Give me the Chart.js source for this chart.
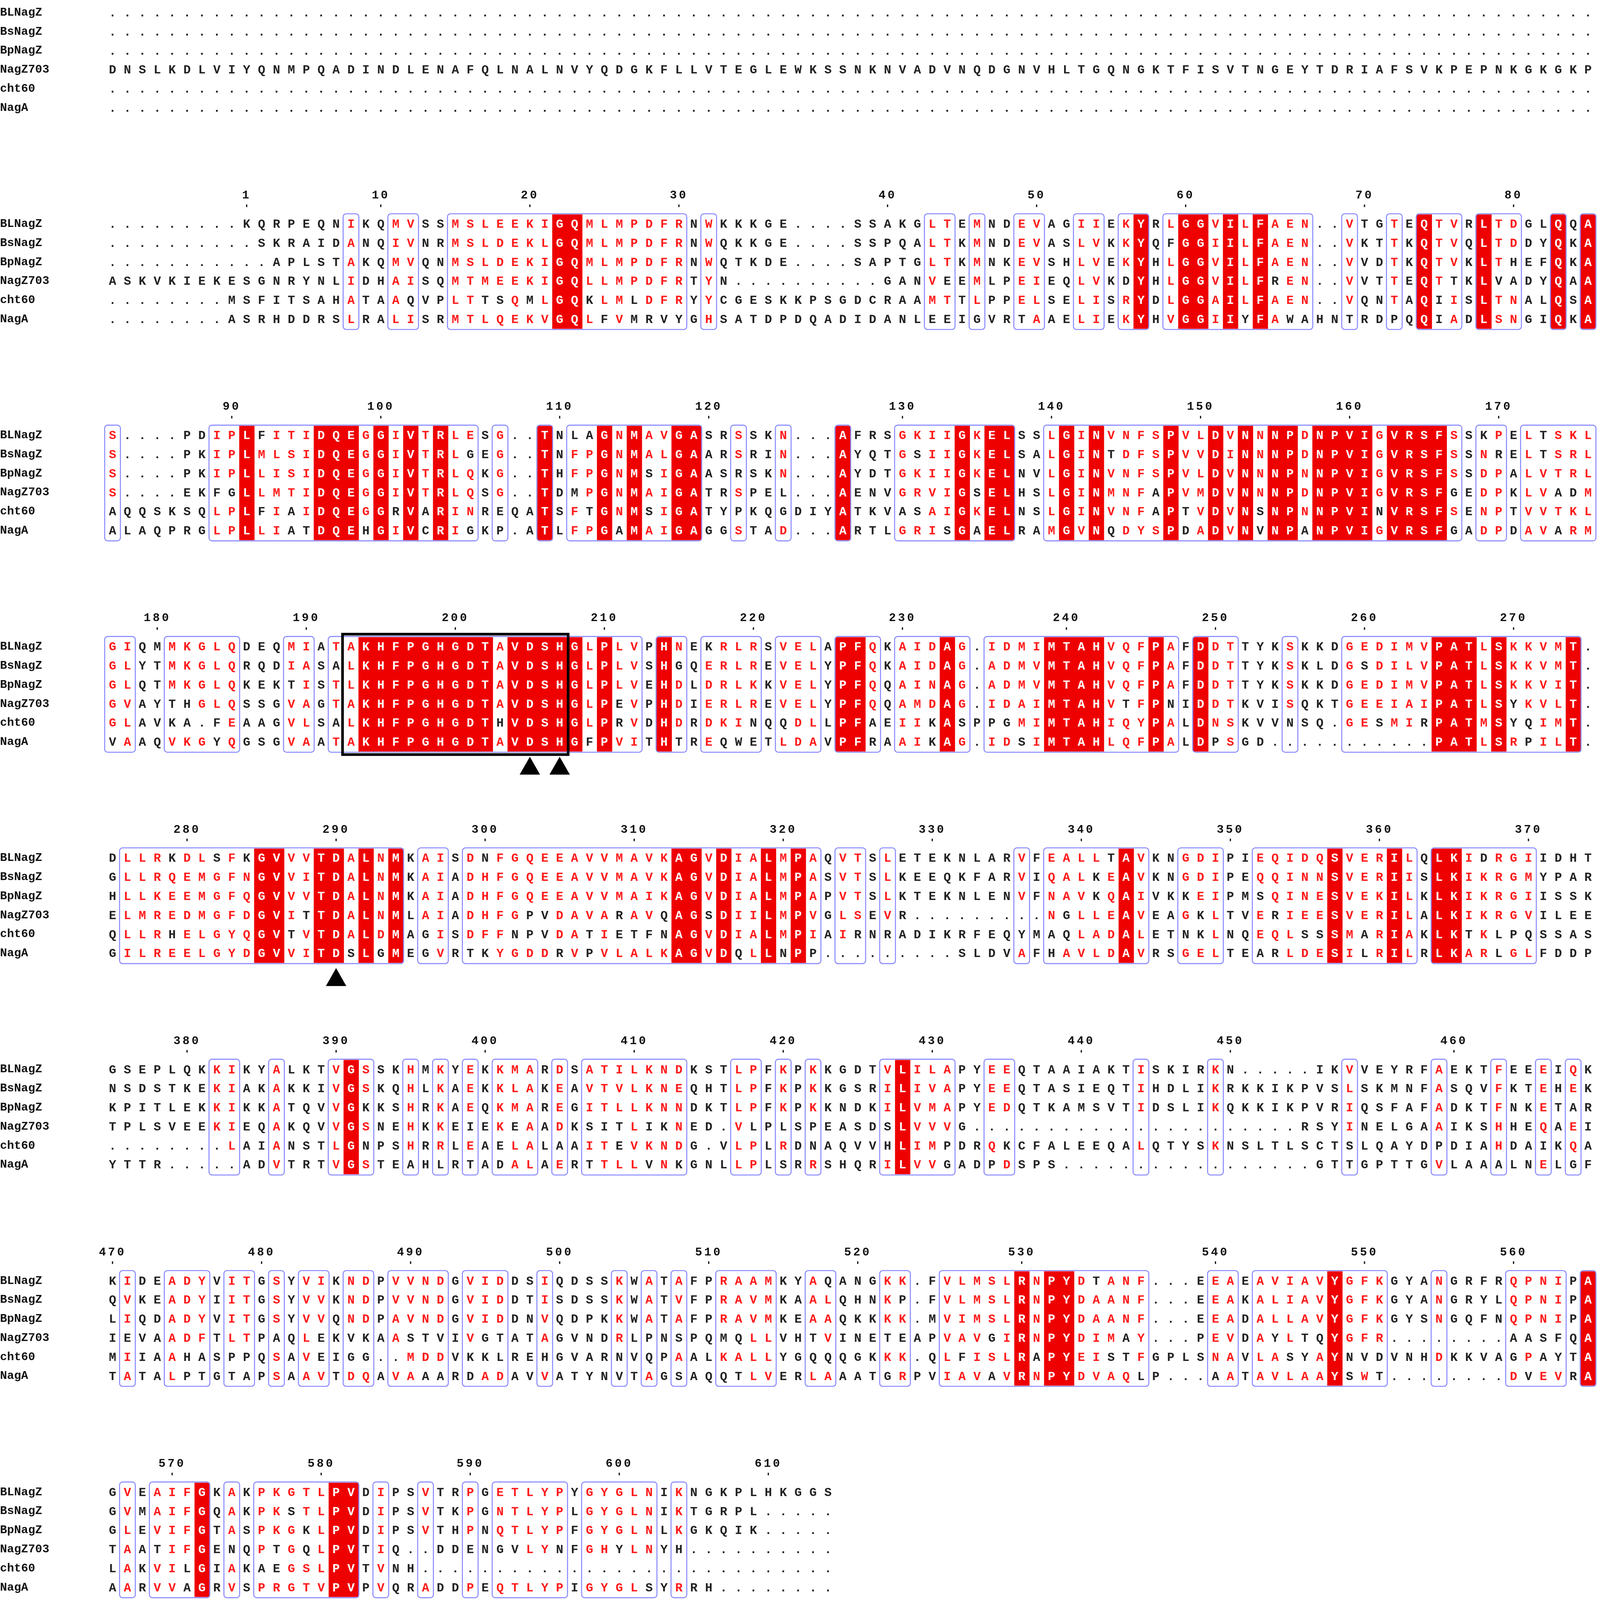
<!DOCTYPE html>
<html><head><meta charset="utf-8">
<script src="https://cdn.jsdelivr.net/npm/chart.js@4"></script>
<style>html,body{margin:0;padding:0;background:#fff;overflow:hidden}canvas{display:block}</style>
</head><body>
<canvas id="c"></canvas>
<script>
const names=['BLNagZ','BsNagZ','BpNagZ','NagZ703','cht60','NagA'];
const block1=['','','','DNSLKDLVIYQNMPQADINDLENAFQLNALNVYQDGKFLLVTEGLEWKSSNKNVADVNQDGNVHLTGQNGKTFISVTNGEYTDRIAFSVKPEPNKGKGKP','',''];
const block2=[
'.........KQRPEQNIKQMVSSMSLEEKIGQMLMPDFRNWKKKGE....SSAKGLTEMNDEVAGIIEKYRLGGVILFAEN..VTGTEQTVRLTDGLQQA',
'..........SKRAIDANQIVNRMSLDEKLGQMLMPDFRNWQKKGE....SSPQALTKMNDEVASLVKKYQFGGIILFAEN..VKTTKQTVQLTDDYQKA',
'...........APLSTAKQMVQNMSLDEKIGQMLMPDFRNWQTKDE....SAPTGLTKMNKEVSHLVEKYHLGGVILFAEN..VVDTKQTVKLTHEFQKA',
'ASKVKIEKESGNRYNLIDHAISQMTMEEKIGQLLMPDFRTYN..........GANVEEMLPEIEQLVKDYHLGGVILFREN..VVTTEQTTKLVADYQAA',
'........MSFITSAHATAAQVPLTTSQMLGQKLMLDFRYYCGESKKPSGDCRAAMTTLPPELSELISRYDLGGAILFAEN..VQNTAQIISLTNALQSA',
'........ASRHDDRSLRALISRMTLQEKVGQLFVMRVYGHSATDPDQADIDANLEEIGVRTAAELIEKYHVGGIIYFAWAHNTRDPQQIADLSNGIQKA'];
const block3=[
'S....PDIPLFITIDQEGGIVTRLESG..TNLAGNMAVGASRSSKN...AFRSGKIIGKELSSLGINVNFSPVLDVNNNPDNPVIGVRSFSSKPELTSKL',
'S....PKIPLMLSIDQEGGIVTRLGEG..TNFPGNMALGAARSRIN...AYQTGSIIGKELSALGINTDFSPVVDINNNPDNPVIGVRSFSSNRELTSRL',
'S....PKIPLLISIDQEGGIVTRLQKG..THFPGNMSIGAASRSKN...AYDTGKIIGKELNVLGINVNFSPVLDVNNNPNNPVIGVRSFSSDPALVTRL',
'S....EKFGLLMTIDQEGGIVTRLQSG..TDMPGNMAIGATRSPEL...AENVGRVIGSELHSLGINMNFAPVMDVNNNPDNPVIGVRSFGEDPKLVADM',
'AQQSKSQLPLFIAIDQEGGRVARINREQATSFTGNMSIGATYPKQGDIYATKVASAIGKELNSLGINVNFAPTVDVNSNPNNPVINVRSFSENPTVVTKL',
'ALAQPRGLPLLIATDQEHGIVCRIGKP.ATLFPGAMAIGAGGSTAD...ARTLGRISGAELRAMGVNQDYSPDADVNVNPANPVIGVRSFGADPDAVARM'];
const block4=[
'GIQMMKGLQDEQMIATAKHFPGHGDTAVDSHGLPLVPHNEKRLRSVELAPFQKAIDAG.IDMIMTAHVQFPAFDDTTYKSKKDGEDIMVPATLSKKVMT',
'GLYTMKGLQRQDIASALKHFPGHGDTAVDSHGLPLVSHGQERLREVELYPFQKAIDAG.ADMVMTAHVQFPAFDDTTYKSKLDGSDILVPATLSKKVMT',
'GLQTMKGLQKEKTISTLKHFPGHGDTAVDSHGLPLVEHDLDRLKKVELYPFQQAINAG.ADMVMTAHVQFPAFDDTTYKSKKDGEDIMVPATLSKKVIT',
'GVAYTHGLQSSGVAGTAKHFPGHGDTAVDSHGLPEVPHDIERLREVELYPFQQAMDAG.IDAIMTAHVTFPNIDDTKVISQKTGEEIAIPATLSYKVLT',
'GLAVKA.FEAAGVLSALKHFPGHGDTHVDSHGLPRVDHDRDKINQQDLLPFAEIIKASPPGMIMTAHIQYPALDNSKVVNSQ.GESMIRPATMSYQIMT',
'VAAQVKGYQGSGVAATAKHFPGHGDTAVDSHGFPVITHTREQWETLDAVPFRAAIKAG.IDSIMTAHLQFPALDPSGD...........PATLSRPILT'];
const block5=[
'DLLRKDLSFKGVVVTDALNMKAISDNFGQEEAVVMAVKAGVDIALMPAQVTSLETEKNLARVFEALLTAVKNGDIPIEQIDQSVERILQLKIDRGIIDHT',
'GLLRQEMGFNGVVITDALNMKAIADHFGQEEAVVMAVKAGVDIALMPASVTSLKEEQKFARVIQALKEAVKNGDIPEQQINNSVERIISLKIKRGMYPAR',
'HLLKEEMGFQGVVVTDALNMKAIADHFGQEEAVVMAIKAGVDIALMPAPVTSLKTEKNLENVFNAVKQAIVKKEIPMSQINESVEKILKLKIKRGIISSK',
'ELMREDMGFDGVITTDALNMLAIADHFGPVDAVARAVQAGSDIILMPVGLSEVR.........NGLLEAVEAGKLTVERIEESVERILALKIKRGVILEE',
'QLLRHELGYQGVTVTDALDMAGISDFFNPVDATIETFNAGVDIALMPIAIRNRADIKRFEQYMAQLADALETNKLNQEQLSSSMARIAKLKTKLPQSSAS',
'GILREELGYDGVVITDSLGMEGVRTKYGDDRVPVLALKAGVDQLLNPP.........SLDVAFHAVLDAVRSGELTEARLDESILRILRLKARLGLFDDP'];
const block6=[
'GSEPLQKKIKYALKTVGSSKHMKYEKKMARDSATILKNDKSTLPFKPKKGDTVLILAPYEEQTAAIAKTISKIRKN.....IKVVEYRFAEKTFEEEIQK',
'NSDSTKEKIAKAKKIVGSKQHLKAEKKLAKEAVTVLKNEQHTLPFKPKKGSRILIVAPYEEQTASIEQTIHDLIKRKKIKPVSLSKMNFASQVFKTEHEK',
'KPITLEKKIKKATQVVGKKSHRKAEQKMAREGITLLKNNDKTLPFKPKKNDKILVMAPYEDQTKAMSVTIDSLIKQKKIKPVRIQSFAFADKTFNKETAR',
'TPLSVEEKIEQAKQVVGSNEHKKEIEKEAADKSITLIKNED.VLPLSPEASDSLVVVG......................RSYINELGAAIKSHHEQAEI',
'........LAIANSTLGNPSHRRLEAELALAAITEVKNDG.VLPLRDNAQVVHLIMPDRQKCFALEEQALQTYSKNSLTLSCTSLQAYDPDIAHDAIKQAD',
'YTTR.....ADVTRTVGSTEAHLRTADALAERTTLLVNKGNLLPLSRRSHQRILVVGADPDSPS.................GTTGPTTGVLAAALNELGF'];
const block7=[
'KIDEADYVITGSYVIKNDPVVNDGVIDDSIQDSSKWATAFPRAAMKYAQANGKK.FVLMSLRNPYDTANF...EEAEAVIAVYGFKGYANGRFRQPNIPA',
'QVKEADYIITGSYVVKNDPVVNDGVIDDTISDSSKWATVFPRAVMKAALQHNKP.FVLMSLRNPYDAANF...EEAKALIAVYGFKGYANGRYLQPNIPA',
'LIQDADYVITGSYVVQNDPAVNDGVIDDNVQDPKKWATAFPRAVMKEAAQKKKK.MVIMSLRNPYDAANF...EEADALLAVYGFKGYSNGQFNQPNIPA',
'IEVAADFTLTPAQLEKVKAASTVIVGTATAGVNDRLPNSPQMQLLVHTVINETEAPVAVGIRNPYDIMAY...PEVDAYLTQYGFR........AASFQA',
'MIIAAHASPPQSAVEIGG..MDDVKKLREHGVARNVQPAALKALLYGQQQGKKK.QLFISLRAPYEISTFGPLSNAVLASYAYNVDVNHDKKVAGPAYTA',
'TATALPTGTAPSAAVTDQAVAAARDADAVVATYNVTAGSAQQTLVERLAAATGRPVIAVAVRNPYDVAQLP...AATAVLAAYSWT........DVEVRA'];
const block8=[
'GVEAIFGKAKPKGTLPVDIPSVTRPGETLYPYGYGLNIKNGKPLHKGGS',
'GVMAIFGQAKPKSTLPVDIPSVTKPGNTLYPLGYGLNIKTGRPL',
'GLEVIFGTASPKGKLPVDIPSVTHPNQTLYPFGYGLNLKGKQIK',
'TAATIFGENQPTGQLPVTIQ..DDENGVLYNFGHYLNYH',
'LAKVILGIAKAEGSLPVTVNH',
'AARVVAGRVSPRGTVPVPVQRADDPEQTLYPIGYGLSYRRH'];
const blocks=[block1,block2,block3,block4,block5,block6,block7,block8];
const blockLen=[100,100,100,100,100,100,100,49];
const boxes=[{block:3,from:16,to:30}];
const triangles=[{block:3,col:28},{block:3,col:30},{block:4,col:15}];

const groups=['ILVMA','FYWH','KR','DEQN','ST','G','P','C'];
const rows=blocks.map((b,i)=>b.map(s=>s.padEnd(blockLen[i],'.').slice(0,blockLen[i])));

const BLOCK_TOP=12, BLOCK_STEP=200.8, ROW_STEP=18.1;
const rowY=(b,r)=>BLOCK_TOP+BLOCK_STEP*b+ROW_STEP*r;

function analyse(rs){
  const L=rs[0].length, res=[];
  for(let c=0;c<L;c++){
    const nongap=rs.map(s=>s[c]).filter(ch=>ch!=='.');
    const ident=nongap.length===6&&nongap.every(ch=>ch===nongap[0]);
    let simGroup=null;
    if(!ident&&nongap.length>=4){
      let best=0;
      for(const g of groups){const n=nongap.filter(ch=>g.includes(ch)).length;if(n>best){best=n;simGroup=g;}}
      if(best<4) simGroup=null;
    }
    res.push({ident,simGroup});
  }
  return res;
}
const info=rows.map(analyse);

const W=window.innerWidth||4562, H=window.innerHeight||4422;
const cv=document.getElementById('c');
cv.width=W;cv.height=H;cv.style.width=W+'px';cv.style.height=H+'px';
const S=W/1568;

const datasets=names.map(n=>({label:n,data:[],pointRadius:0,showLine:false}));
rows.forEach((rs,b)=>rs.forEach((s,r)=>{for(let c=0;c<s.length;c++){if(s[c]!=='.')datasets[r].data.push({x:c+0.5,y:rowY(b,r)});}}));

const drawPlugin={id:'msa',afterDatasetsDraw(chart){
  const ctx=chart.ctx,X=chart.scales.x,Y=chart.scales.y;
  const px=v=>X.getPixelForValue(v), py=v=>Y.getPixelForValue(v);
  const cw=px(1)-px(0), rh=py(ROW_STEP)-py(0);
  const mono='"Liberation Mono", "DejaVu Sans Mono", monospace';
  ctx.save();
  rows.forEach((rs,b)=>{
    const inf=info[b], L=rs[0].length;
    for(let c=0;c<L;c++){ if(inf[c].ident){
      ctx.fillStyle='#ee0000';
      ctx.fillRect(px(c),py(rowY(b,0))-rh/2,cw+1,rh*6);
    }}
    let c=0;
    while(c<L){
      if(inf[c].ident||inf[c].simGroup){
        let e=c; while(e+1<L&&(inf[e+1].ident||inf[e+1].simGroup)) e++;
        ctx.strokeStyle='#8a8aff';ctx.lineWidth=1*S;
        ctx.beginPath();
        ctx.roundRect(px(c)-S*0.4,py(rowY(b,0))-rh/2-S*0.7,cw*(e-c+1)+S*0.8,rh*6+S*1.4,3*S);
        ctx.stroke();
        c=e+1;
      } else c++;
    }
    ctx.textBaseline='middle';
    rs.forEach((s,r)=>{
      const y=py(rowY(b,r));
      ctx.textAlign='left';ctx.fillStyle='#111';
      ctx.font='bold '+(11.5*S)+'px '+mono;
      ctx.fillText(names[r],px(-7.05),y);
      ctx.textAlign='center';
      ctx.font='bold '+(12*S)+'px '+mono;
      for(let k=0;k<s.length;k++){
        const ch=s[k];
        if(inf[k].ident) ctx.fillStyle='#ffffff';
        else if(inf[k].simGroup&&inf[k].simGroup.includes(ch)) ctx.fillStyle='#ff1a1a';
        else ctx.fillStyle='#222';
        ctx.fillText(ch,px(k+0.5),y+0.7*S);
      }
    });
  });
  let count=0;
  rows.forEach((rs,b)=>{
    const L=rs[0].length;
    for(let c=0;c<L;c++){
      if(b===0) continue;
      if(rs[0][c]!=='.'){count++;
        if(count===1||count%10===0){
          ctx.fillStyle='#111';ctx.textAlign='center';ctx.textBaseline='middle';
          ctx.font='bold '+(11.5*S)+'px '+mono;
          ctx.letterSpacing=(2*S)+'px';
          ctx.fillText(String(count),px(c+0.5),py(rowY(b,0)-27));
          ctx.letterSpacing='0px';
          ctx.fillRect(px(c+0.5)-0.6*S,py(rowY(b,0)-18.5),1.2*S,2.5*S);
        }
      }
    }
  });
  boxes.forEach(bx=>{
    ctx.strokeStyle='#000';ctx.lineWidth=2.6*S;
    ctx.strokeRect(px(bx.from)-S,py(rowY(bx.block,0))-rh/2-3*S,cw*(bx.to-bx.from+1)+2*S,rh*6+6*S);
  });
  triangles.forEach(t=>{
    const cx=px(t.col+0.5), y0=py(rowY(t.block,5)+14), y1=py(rowY(t.block,5)+31);
    ctx.fillStyle='#000';ctx.beginPath();
    ctx.moveTo(cx,y0);ctx.lineTo(cx-10*S,y1);ctx.lineTo(cx+10*S,y1);ctx.closePath();ctx.fill();
  });
  ctx.restore();
}};

new Chart(cv,{
  type:'scatter',
  data:{datasets},
  options:{responsive:false,devicePixelRatio:1,animation:false,
    layout:{padding:0},
    plugins:{legend:{display:false},tooltip:{enabled:false}},
    scales:{x:{type:'linear',min:-7.05,max:100.3,display:false},
            y:{type:'linear',min:0,max:1520,reverse:true,display:false}}},
  plugins:[drawPlugin]
});
</script>
</body></html>
